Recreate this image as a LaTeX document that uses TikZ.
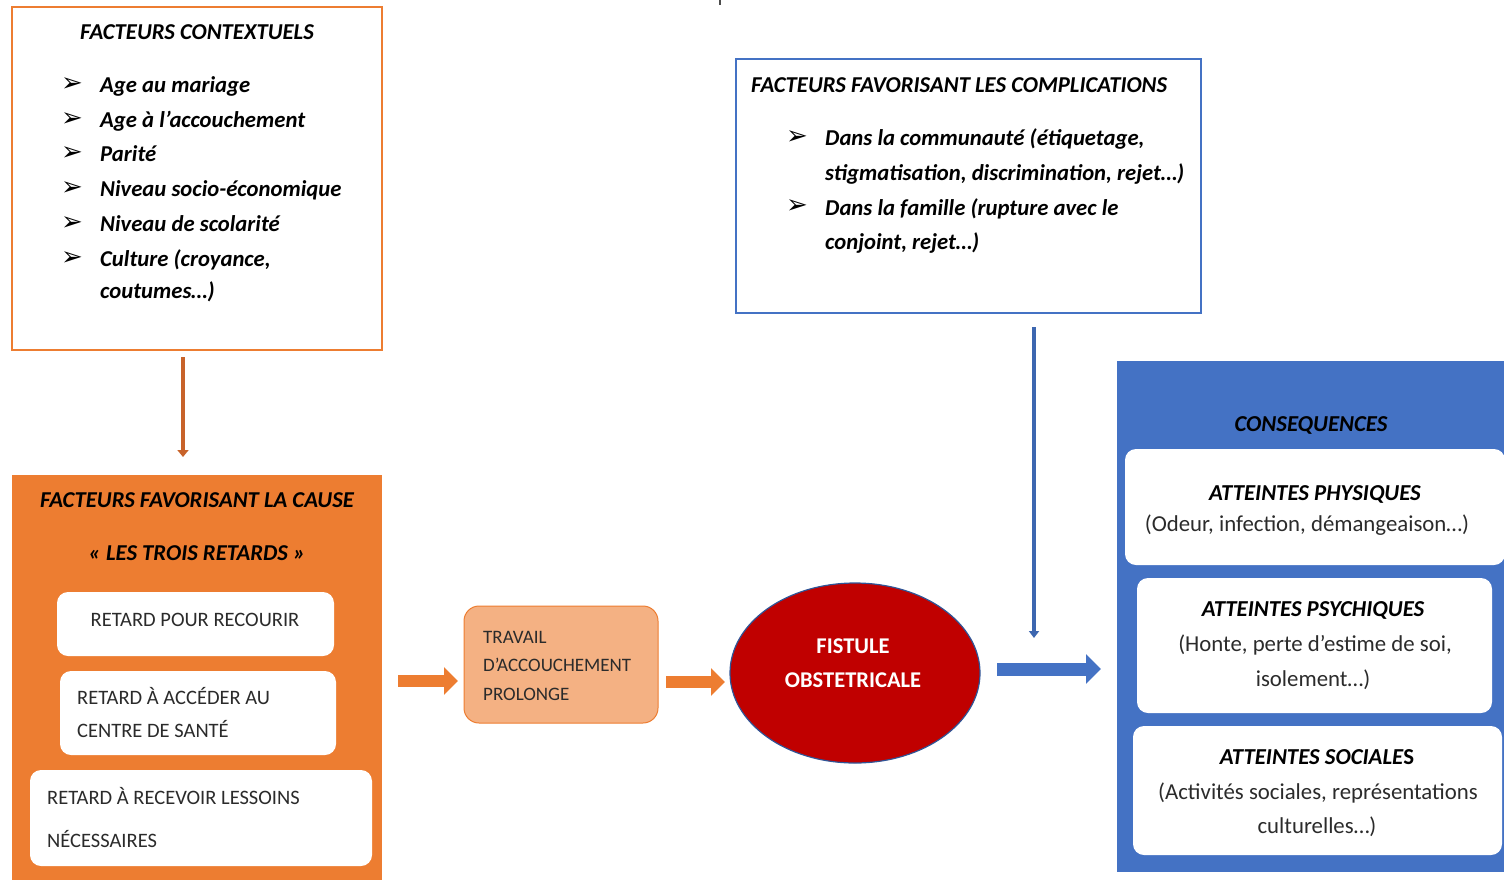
\documentclass[tikz,border=0pt]{standalone}
\usepackage{fontspec}
\setmainfont{Carlito}
\newfontfamily\dejavu{DejaVu Sans}
\usetikzlibrary{arrows.meta,shapes.geometric}
\definecolor{orA}{HTML}{ED7D31}
\definecolor{orL}{HTML}{F4B183}
\definecolor{orD}{HTML}{C8632A}
\definecolor{blA}{HTML}{4472C4}
\definecolor{blD}{HTML}{2F5597}
\definecolor{redF}{HTML}{C00000}
\definecolor{txg}{HTML}{2B2B2B}
\begin{document}
\begin{tikzpicture}[x=1pt,y=-1pt,
  ttl/.style={font=\fontsize{22.7}{26}\selectfont\bfseries\itshape, anchor=mid, inner sep=0, yshift=-5.5pt},
  itm/.style={font=\fontsize{22.7}{26}\selectfont\bfseries\itshape, anchor=mid west, inner sep=0, yshift=-5.5pt},
  bul/.style={font=\fontsize{26}{28}\selectfont\dejavu\bfseries, anchor=mid, inner sep=0, yshift=-4pt},
  caps/.style={font=\fontsize{20.5}{24}\selectfont, text=txg, inner sep=0, yshift=-5.5pt},
  trv/.style={font=\fontsize{19}{22}\selectfont, text=txg, inner sep=0, yshift=-5pt, anchor=mid west},
  cons/.style={font=\fontsize{22.8}{26}\selectfont, anchor=mid, inner sep=0, text=txg, yshift=-5.5pt},
  consT/.style={font=\fontsize{22.8}{26}\selectfont\bfseries\itshape, anchor=mid, inner sep=0, yshift=-5.5pt},
  panel/.style={rectangle, inner sep=0, outer sep=0},
  wbox/.style={rectangle, rounded corners=11pt, fill=white, inner sep=0},
  thinO/.style={draw=orD, line width=4pt, -{Triangle[length=7pt,width=11pt]}},
  thinB/.style={draw=blA!90!black, line width=3.5pt, -{Triangle[length=7pt,width=10pt]}},
  bigO/.style={draw=orA, line width=12.5pt, -{Triangle[length=14pt,width=27pt]}},
  bigB/.style={draw=blA, line width=13pt, -{Triangle[length=15pt,width=29pt]}}
]
\useasboundingbox (0,0) rectangle (1504,879);
\draw[black!70, line width=1.5pt] (720,0) -- (720,5);

% contextual factors box
\node[panel, draw=orA, line width=2pt, fill=white, minimum width=370pt, minimum height=343pt] (ctx) at (197,178.5) {};
\node[ttl] (ctxT) at (197,32) {FACTEURS CONTEXTUELS};
\foreach \y/\t [count=\i] in {85/Age au mariage, 120/Age à l’accouchement, 154/Parité, 189/Niveau socio-économique, 224/Niveau de scolarité, 259/{Culture (croyance,}}{
  \node[bul] (cb\i) at (72,\y) {➢};
  \node[itm] (ci\i) at (100,\y) {\t};
}
\node[itm] (ci7) at (100,291) {coutumes…)};

% cause box
\node[panel, fill=orA, minimum width=370pt, minimum height=406pt] (cause) at (197,678) {};
\node[ttl] (causeT) at (197,500) {FACTEURS FAVORISANT LA CAUSE};
\node[ttl] (causeT2) at (197,553) {« LES TROIS RETARDS »};
\node[wbox, minimum width=277pt, minimum height=64pt] (r1) at (195.5,624) {};
\node[caps, anchor=mid] (r1t) at (195,619) {RETARD POUR RECOURIR};
\node[wbox, minimum width=276pt, minimum height=84pt] (r2) at (198,713) {};
\node[caps, anchor=mid west] (r2a) at (77,697) {RETARD À ACCÉDER AU};
\node[caps, anchor=mid west] (r2b) at (77,730) {CENTRE DE SANTÉ};
\node[wbox, minimum width=342pt, minimum height=96pt] (r3) at (201,818) {};
\node[caps, anchor=mid west] (r3a) at (47,797) {RETARD À RECEVOIR LESSOINS};
\node[caps, anchor=mid west] (r3b) at (47,840) {NÉCESSAIRES};

% travail
\node[rectangle, rounded corners=15pt, fill=orL, draw=orA, line width=1pt, minimum width=194pt, minimum height=117pt] (trav) at (561,664.5) {};
\node[trv] (tr1) at (483,636) {TRAVAIL};
\node[trv] (tr2) at (483,664) {D’ACCOUCHEMENT};
\node[trv] (tr3) at (483,693) {PROLONGE};

% fistule
\node[ellipse, fill=redF, draw=blD, line width=1.2pt, minimum width=250pt, minimum height=180pt, inner sep=0] (fist) at (855,673) {};
\node[font=\fontsize{22.5}{26}\selectfont\bfseries, text=white, anchor=mid, inner sep=0, yshift=-5.5pt] (f1) at (853,646) {FISTULE};
\node[font=\fontsize{22.5}{26}\selectfont\bfseries, text=white, anchor=mid, inner sep=0, yshift=-5.5pt] (f2) at (853,680) {OBSTETRICALE};

% complications box
\node[panel, draw=blA, line width=2pt, fill=white, minimum width=465pt, minimum height=254pt] (comp) at (968.5,186) {};
\node[itm] (compT) at (751,85) {FACTEURS FAVORISANT LES COMPLICATIONS};
\node[bul] (kb1) at (797,138) {➢};
\node[bul] (kb2) at (797,207) {➢};
\node[itm] (k1) at (825,138) {Dans la communauté (étiquetage,};
\node[itm] (k2) at (825,173) {stigmatisation, discrimination, rejet…)};
\node[itm] (k3) at (825,208) {Dans la famille (rupture avec le};
\node[itm] (k4) at (825,242) {conjoint, rejet…)};

% consequences box
\node[panel, fill=blA, minimum width=390pt, minimum height=511pt] (cons) at (1312,616.5) {};
\node[consT] (consT0) at (1311,424) {CONSEQUENCES};
\node[wbox, minimum width=380pt, minimum height=116pt] (b1) at (1315,507) {};
\node[consT] (b1a) at (1315,493) {ATTEINTES PHYSIQUES};
\node[cons] (b1b) at (1307,524) {(Odeur, infection, démangeaison…)};
\node[wbox, minimum width=355pt, minimum height=135pt] (b2) at (1314.5,645.5) {};
\node[consT] (b2a) at (1313,609) {ATTEINTES PSYCHIQUES};
\node[cons] (b2b) at (1315,644) {(Honte, perte d’estime de soi,};
\node[cons] (b2c) at (1313,679) {isolement…)};
\node[wbox, minimum width=369pt, minimum height=129pt] (b3) at (1317.5,790.5) {};
\node[consT] (b3a) at (1317,757) {ATTEINTES SOCIALE{\upshape S}};
\node[cons] (b3b) at (1318,792) {(Activités sociales, représentations};
\node[cons] (b3c) at (1317,826) {culturelles…)};

% connectors
\coordinate (a1s) at (183,357);
\coordinate (a1e) at (183,457);
\draw[thinO] (a1s) -- (a1e);
\coordinate (a2s) at (1034,327);
\coordinate (a2e) at (1034,638);
\draw[thinB] (a2s) -- (a2e);
\coordinate (o1s) at (398,681);
\coordinate (o1e) at (458,681);
\draw[bigO] (o1s) -- (o1e);
\coordinate (o2s) at (666,682);
\coordinate (o2e) at (725,682);
\draw[bigO] (o2s) -- (o2e);
\coordinate (bls) at (997,669);
\coordinate (ble) at (1101,669);
\draw[bigB] (bls) -- (ble);
\end{tikzpicture}
\end{document}
